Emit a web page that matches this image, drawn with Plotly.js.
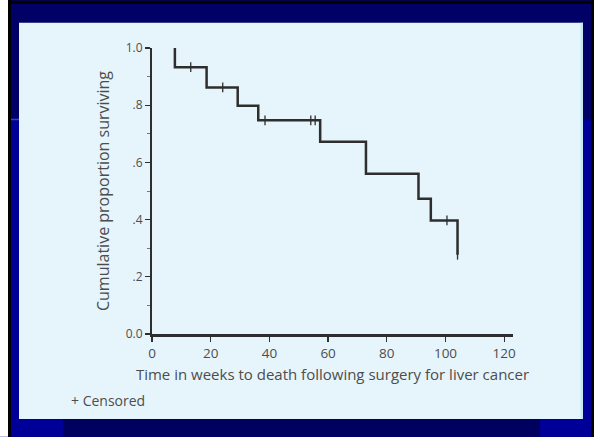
<!DOCTYPE html>
<html>
<head>
<meta charset="utf-8">
<script src="https://cdn.plot.ly/plotly-3.0.1.min.js"></script>
<style>html,body{margin:0;padding:0;background:#000066;}#chart{width:594px;height:437px;}</style>
</head>
<body>
<div id="chart"></div>
<script>
// Kaplan-Meier survival data
var startTime = 7.8;
var startSurvival = 1.0;
var eventTimes = [7.8, 18.6, 29.2, 36.2, 57.3, 72.9, 90.8, 95.0, 104.1];
var survival = [0.933, 0.862, 0.798, 0.747, 0.672, 0.560, 0.473, 0.397, 0.277];
var censoredTimes = [13.2, 24.1, 38.5, 54.1, 55.6, 100.5, 104.1];
var censoredSurvival = [0.933, 0.862, 0.747, 0.747, 0.747, 0.397, 0.277];
var xTickVals = [0, 20, 40, 60, 80, 100, 120];
var xTickText = ['0', '20', '40', '60', '80', '100', '120'];
var yTickVals = [0, 0.2, 0.4, 0.6, 0.8, 1.0];
var yTickText = ['0.0', '.2', '.4', '.6', '.8', '1.0'];

var stepX = [startTime].concat(eventTimes);
var stepY = [startSurvival].concat(survival);

// pixel -> paper helpers (plot area: x 152..513, y 48.3..334.3)
var L = 152, R = 513, T = 48.3, B = 334.3;
function px(x) { return (x - L) / (R - L); }
function py(y) { return (B - y) / (B - T); }
function rect(x0, y0, x1, y1, color) {
  return {type: 'rect', xref: 'paper', yref: 'paper', layer: 'below',
    x0: px(x0), x1: px(x1), y0: py(y1), y1: py(y0),
    fillcolor: color, line: {width: 0}};
}

var textColor = '#4d4d4d';
var fontFam = '"Open Sans", "Liberation Sans", sans-serif';

var traces = [
  {x: stepX, y: stepY, type: 'scatter', mode: 'lines',
   line: {shape: 'hv', color: '#2e2e2e', width: 2.5}, hoverinfo: 'skip'},
  {x: censoredTimes, y: censoredSurvival, type: 'scatter', mode: 'markers',
   marker: {symbol: 'line-ns', size: 7, line: {color: '#2e2e2e', width: 1.3}}, hoverinfo: 'skip'}
];

var layout = {
  width: 594, height: 437,
  margin: {l: L, r: 594 - R, t: T, b: 437 - B, pad: 0},
  paper_bgcolor: '#000066',
  plot_bgcolor: 'rgba(0,0,0,0)',
  showlegend: false,
  font: {family: fontFam, color: textColor, size: 12},
  xaxis: {
    range: [0, 123], tickvals: xTickVals, ticktext: xTickText,
    showgrid: false, zeroline: false, showline: true, linecolor: '#2e2e2e', linewidth: 3,
    ticks: 'outside', ticklen: 5, tickwidth: 1.3, tickcolor: '#2e2e2e',
    tickfont: {size: 13.5, color: textColor, family: fontFam},
    title: {text: 'Time in weeks to death following surgery for liver cancer',
            font: {size: 15, color: textColor, family: fontFam}, standoff: 9}
  },
  yaxis: {
    range: [0, 1.0], tickvals: yTickVals, ticktext: yTickText,
    showgrid: false, zeroline: false, showline: true, linecolor: '#2e2e2e', linewidth: 2,
    ticks: 'outside', ticklen: 5, tickwidth: 1.3, tickcolor: '#2e2e2e',
    minor: {dtick: 0.1, ticks: 'outside', ticklen: 3, tickcolor: '#777', tickwidth: 1},
    tickfont: {size: 12, color: textColor, family: fontFam},
    title: {text: 'Cumulative proportion surviving',
            font: {size: 16, color: textColor, family: fontFam}, standoff: 12}
  },
  shapes: [
    rect(0, 0, 594, 437, '#000066'),
    rect(11, 120, 591, 437, '#000099'),
    rect(63, 419, 540, 437, '#00005f'),
    rect(0, 0, 8, 437, '#ffffff'),
    rect(8, 0, 11, 437, '#000000'),
    rect(8, 1, 594, 4, '#000000'),
    rect(591, 0, 594, 437, '#000000'),
    rect(11, 119, 19, 120.5, '#2a4ad0'),
    rect(19, 23, 583, 419.3, '#e6f5fb'),
    rect(580.5, 23, 583, 419.3, '#c4e9f5')
  ],
  annotations: [
    {xref: 'paper', yref: 'paper', x: px(69), y: py(401), xanchor: 'left', yanchor: 'middle',
     showarrow: false, text: '+ Censored', font: {size: 14, color: textColor, family: fontFam}}
  ]
};

Plotly.newPlot('chart', traces, layout, {displayModeBar: false, staticPlot: true});
</script>
</body>
</html>
